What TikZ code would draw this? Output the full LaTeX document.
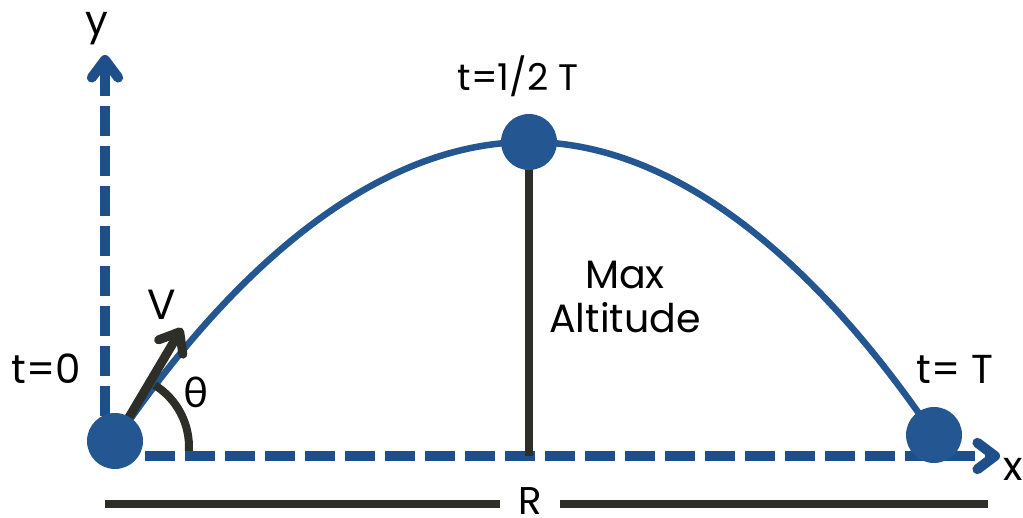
\documentclass[tikz,border=0pt]{standalone}
\usepackage{fontspec}
\setmainfont{Poppins}
\newfontfamily\griega{Lato}
\usetikzlibrary{arrows.meta}

\definecolor{trayecto}{RGB}{36,87,145}
\definecolor{ejes}{RGB}{31,79,139}
\definecolor{oscuro}{RGB}{46,46,40}

\tikzset{
	eje/.style={ejes, line width=0.2cm, dash pattern=on 0.6cm off 0.2cm, -{Straight Barb[length=10pt, width=15pt, round]}},
	bola/.style={circle, fill=trayecto, inner sep=0pt, minimum size=1.12cm},
	cota/.style={oscuro, line width=0.16cm},
	rotulo/.style={inner sep=0pt, font=\fontsize{23}{27}\selectfont},
}

\begin{document}
\begin{tikzpicture}[>=stealth]
		\useasboundingbox (0,0) rectangle (20.46,10.36);
		
		% Parámetros (1 cm = 50 px de la figura)
		\def\Xeje{2.1}      % Posición del eje y
		\def\Yeje{1.24}     % Posición del eje x
		\def\Ycota{0.29}    % Altura de la cota R
		
		% --- 1. EJES COORDENADOS ---
		\coordinate (ax) at (\Xeje, \Yeje);
		\coordinate (ytip) at (\Xeje, 9.26);
		\coordinate (xtip) at (20.0, \Yeje);
		\draw[eje] (ax) -- (ytip);
		\draw[eje] (ax) -- (xtip);
		\node[rotulo] (ylab) at (1.94, 9.78) {y};
		\node[rotulo] (xlab) at (20.26, 0.98) {x};
		
		% --- 2. TRAYECTORIA PARABÓLICA ---
		\coordinate (p0) at (2.3, 1.54);
		\coordinate (pm) at (10.58, 7.52);
		\coordinate (pT) at (18.68, 1.66);
		\draw[trayecto, line width=0.13cm] (p0) parabola bend (pm) (pT);
		
		% Altura máxima
		\draw[cota] (pm) -- (pm |- ax);
		\node[align=center, inner sep=0pt, font=\fontsize{22.5}{25.6}\selectfont] (hmax) at (12.5, 4.42) {Max\\Altitude};
		
		% --- 3. VELOCIDAD INICIAL Y ÁNGULO ---
		\coordinate (vtip) at (3.64, 3.8);
		\draw[cota, line width=0.18cm, -{Straight Barb[length=10pt, width=16pt, round]}] (p0) -- (vtip);
		\draw[cota] (2.32, 1.42) ++(-3:1.46) arc[start angle=-3, end angle=58, radius=1.46];
		\node[rotulo, font=\fontsize{24}{28}\selectfont] (vlab) at (3.24, 4.26) {V};
		\node[rotulo, font=\fontsize{24}{28}\selectfont\griega] (theta) at (3.92, 2.52) {θ};
		
		% --- 4. POSICIONES (bolas) ---
		\node[bola] (lanz) at (p0) {};
		\node[bola] (cima) at (pm) {};
		\node[bola] (cae) at (pT) {};
		\node[rotulo] (t0) at (0.92, 2.98) {t=0};
		\node[rotulo, font=\fontsize{21}{25}\selectfont] (tmed) at (10.36, 8.84) {t=1/2 T};
		\node[rotulo] (tT) at (19.1, 2.98) {t= T};
		
		% --- 5. ALCANCE R ---
		\coordinate (Rl) at (\Xeje, \Ycota);
		\coordinate (Rr) at (19.76, \Ycota);
		\node[rotulo, font=\fontsize{22}{26}\selectfont, minimum width=1.2cm] (R) at (10.6, 0.33) {R};
		\draw[cota] (Rl) -- (Rl -| R.west);
		\draw[cota] (Rr -| R.east) -- (Rr);
		
	\end{tikzpicture}
\end{document}
